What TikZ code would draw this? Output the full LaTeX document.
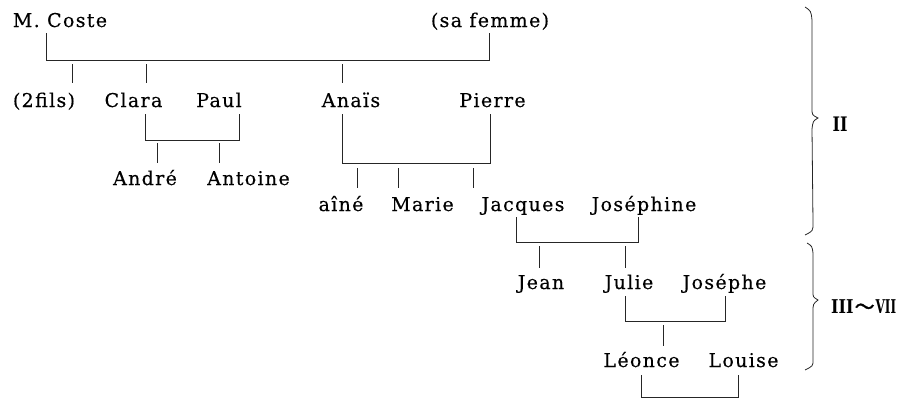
\documentclass[tikz,border=0pt]{standalone}
\usepackage{fontspec}
\usepackage{graphicx}
\setmainfont{DejaVu Serif}[LetterSpace=7,FakeBold=0.3]
\newfontfamily\cjk{Noto Sans CJK JP}[FakeBold=1.5]
\newfontfamily\romnum{DejaVu Serif Bold}
\tikzset{
  nm/.style={font=\fontsize{19}{23}\selectfont, inner sep=0pt, anchor=base},
  rn/.style={font=\romnum\fontsize{20}{22}\selectfont, inner sep=0pt, anchor=center},
  ln/.style={line width=0.9pt, black!85},
  brace/.style={line width=0.8pt, black!85}
}
\begin{document}
\begin{tikzpicture}[x=1pt,y=-1pt]
\useasboundingbox (0,0) rectangle (904,400);
% names
\node[nm] (coste) at (60,27) {M. Coste};
\node[nm] (femme) at (490,27) {(sa femme)};
\node[nm] (fils) at (44,107) {(2fils)};
\node[nm] (clara) at (133.5,107) {Clara};
\node[nm] (paul) at (219,107) {Paul};
\node[nm] (anais) at (351,107) {Anaïs};
\node[nm] (pierre) at (492.5,107) {Pierre};
\node[nm] (andre) at (145,185) {André};
\node[nm] (antoine) at (248.5,185) {Antoine};
\node[nm] (aine) at (341,211) {aîné};
\node[nm] (marie) at (422.5,211) {Marie};
\node[nm] (jacques) at (523,211) {Jacques};
\node[nm] (josephine) at (644,211) {Joséphine};
\node[nm] (jean) at (541,289) {Jean};
\node[nm] (julie) at (629,289) {Julie};
\node[nm] (josephe) at (724.5,289) {Joséphe};
\node[nm] (leonce) at (641.5,367) {Léonce};
\node[nm] (louise) at (743.5,367) {Louise};
% M. Coste -- sa femme
\coordinate (a1) at (46,60); \coordinate (a2) at (489,60);
\coordinate (ad1) at (72,60); \coordinate (ad2) at (146,60); \coordinate (ad3) at (342,60);
\draw[ln] ([yshift=-6pt]coste.base -| a1) -- (a1) -- (a2) -- ([yshift=-6pt]femme.base -| a2);
\draw[ln] ([yshift=-4pt]ad1) -- ([yshift=24pt]fils.base -| ad1);
\draw[ln] ([yshift=-4pt]ad2) -- ([yshift=24pt]clara.base -| ad2);
\draw[ln] ([yshift=-4pt]ad3) -- ([yshift=24pt]anais.base -| ad3);
% Clara -- Paul
\coordinate (b1) at (145,140); \coordinate (b2) at (239,140);
\coordinate (bd1) at (157,140); \coordinate (bd2) at (219,140);
\draw[ln] ([yshift=-7pt]clara.base -| b1) -- (b1) -- (b2) -- ([yshift=-7pt]paul.base -| b2);
\draw[ln] ([yshift=-3pt]bd1) -- ([yshift=22pt]andre.base -| bd1);
\draw[ln] ([yshift=-3pt]bd2) -- ([yshift=22pt]antoine.base -| bd2);
% Anais -- Pierre
\coordinate (c1) at (342,163); \coordinate (c2) at (490,163);
\coordinate (cd1) at (357,163); \coordinate (cd2) at (398,163); \coordinate (cd3) at (473,163);
\draw[ln] ([yshift=-7pt]anais.base -| c1) -- (c1) -- (c2) -- ([yshift=-7pt]pierre.base -| c2);
\draw[ln] ([yshift=-5pt]cd1) -- ([yshift=23pt]aine.base -| cd1);
\draw[ln] ([yshift=-5pt]cd2) -- ([yshift=23pt]marie.base -| cd2);
\draw[ln] ([yshift=-5pt]cd3) -- ([yshift=23pt]jacques.base -| cd3);
% Jacques -- Josephine
\coordinate (e1) at (516,242); \coordinate (e2) at (638,242);
\coordinate (ed1) at (539,242); \coordinate (ed2) at (625,242);
\draw[ln] ([yshift=-6pt]jacques.base -| e1) -- (e1) -- (e2) -- ([yshift=-6pt]josephine.base -| e2);
\draw[ln] ([yshift=-4pt]ed1) -- ([yshift=21pt]jean.base -| ed1);
\draw[ln] ([yshift=-4pt]ed2) -- ([yshift=21pt]julie.base -| ed2);
% Julie -- Josephe
\coordinate (f1) at (625,321); \coordinate (f2) at (725,321);
\coordinate (fd1) at (663,321);
\draw[ln] ([yshift=-7pt]julie.base -| f1) -- (f1) -- (f2) -- ([yshift=-7pt]josephe.base -| f2);
\draw[ln] ([yshift=-4pt]fd1) -- ([yshift=21pt]leonce.base -| fd1);
% Leonce -- Louise
\coordinate (g1) at (641,397); \coordinate (g2) at (738,397);
\draw[ln] ([yshift=-8pt]leonce.base -| g1) -- (g1) -- (g2) -- ([yshift=-8pt]louise.base -| g2);
% braces
\draw[brace] (805,7) .. controls (811,11) .. (812,20) -- (812,108)
  .. controls (812,115) .. (818,118) .. controls (813,121) .. (812,129)
  -- (813,223) .. controls (813,231) .. (805,235);
\draw[brace] (807,243) .. controls (812,246) .. (813,253) -- (813,292)
  .. controls (813,297) .. (818,300) .. controls (813,304) .. (813,312)
  -- (813,360) .. controls (813,366) .. (805,370);
\node[rn] (lab2) at (840,124) {\scalebox{0.8}[1]{II}};
\node[rn, anchor=west] (lab37) at (831,307) {\scalebox{0.8}[0.95]{III}\hspace{1pt}{\cjk\fontsize{20}{22}\selectfont 〜}\hspace{1pt}\scalebox{0.6}[0.95]{VII}};
\end{tikzpicture}
\end{document}
